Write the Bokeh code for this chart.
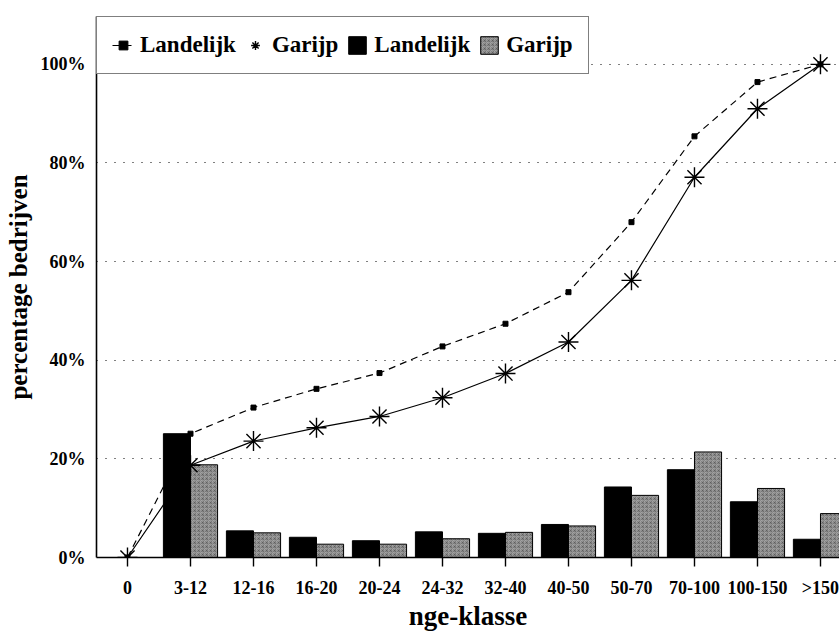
from bokeh.plotting import figure
from bokeh.models import FixedTicker, Range1d, Legend, LegendItem, ColumnDataSource
from bokeh.transform import dodge
from bokeh.embed import file_html
from bokeh.resources import INLINE

categories = ["0", "3-12", "12-16", "16-20", "20-24", "24-32", "32-40",
              "40-50", "50-70", "70-100", "100-150", ">150"]
bar_categories = categories[1:]
bar_landelijk = [25.1, 5.4, 4.1, 3.4, 5.2, 4.9, 6.7, 14.3, 17.8, 11.3, 3.7]
bar_garijp = [18.8, 5.0, 2.7, 2.7, 3.8, 5.1, 6.4, 12.6, 21.4, 14.0, 8.9]
cum_landelijk = [0, 25.1, 30.4, 34.2, 37.4, 42.8, 47.4, 53.8, 68.0, 85.4, 96.4, 100]
cum_garijp = [0, 18.7, 23.6, 26.3, 28.6, 32.4, 37.3, 43.7, 56.2, 77.1, 91.0, 100]
y_ticks = [0, 20, 40, 60, 80, 100]
grid_ticks = [20, 40, 60, 80, 100]

FONT = "Liberation Serif, Times New Roman, serif"

idx = {c: i for i, c in enumerate(categories)}
bar_src = ColumnDataSource(dict(
    x=[idx[c] for c in bar_categories],
    land=bar_landelijk,
    gar=bar_garijp,
))
line_src = ColumnDataSource(dict(
    x=[idx[c] for c in categories],
    land=cum_landelijk,
    gar=cum_garijp,
))

p = figure(width=839, height=635, output_backend="svg", toolbar_location=None,
           x_range=Range1d(-0.492, 11.302), y_range=Range1d(0, 109.7),
           min_border_left=96, min_border_right=0, min_border_top=16,
           min_border_bottom=78)
p.outline_line_color = None
p.background_fill_color = "white"
p.border_fill_color = "white"

# bars
bl = p.vbar(x=dodge("x", -0.215), top="land", width=0.43, source=bar_src,
            fill_color="black", line_color="black", line_width=1)
bg = p.vbar(x=dodge("x", 0.215), top="gar", width=0.43, source=bar_src,
            fill_color="#a4a4a4", line_color="black", line_width=1,
            hatch_pattern="criss_cross", hatch_color="#3a3a3a",
            hatch_scale=4, hatch_weight=0.7, hatch_alpha=0.45)

# lines
ll = p.line("x", "land", source=line_src, line_color="black", line_width=1.2,
            line_dash="7 5")
lm = p.scatter("x", "land", source=line_src, marker="square", size=5,
               fill_color="black", line_color="black")
gl = p.line("x", "gar", source=line_src, line_color="black", line_width=1.2)
gm = p.scatter("x", "gar", source=line_src, marker="asterisk", size=20,
               line_color="black", line_width=1.4)

# axes
p.xaxis.ticker = FixedTicker(ticks=list(range(len(categories))))
p.xaxis.major_label_overrides = {i: c for i, c in enumerate(categories)}
p.xaxis.axis_label = "nge-klasse"
p.xaxis.major_tick_out = 9
p.xaxis.major_tick_in = 0
p.xaxis.minor_tick_line_color = None
p.xaxis.major_label_standoff = 11
p.xaxis.axis_label_standoff = 0

p.yaxis.ticker = FixedTicker(ticks=y_ticks)
p.yaxis.major_label_overrides = {v: f"{v}%" for v in y_ticks}
p.yaxis.axis_label = "percentage bedrijven"
p.yaxis.major_tick_line_color = None
p.yaxis.minor_tick_line_color = None
p.yaxis.major_tick_out = 0
p.yaxis.major_tick_in = 0
p.yaxis.major_label_standoff = 11
p.yaxis.axis_label_standoff = 6

for ax in (p.xaxis, p.yaxis):
    ax.axis_line_color = "black"
    ax.axis_line_width = 1.6
    ax.major_tick_line_width = 1.4
    ax.major_label_text_font = FONT
    ax.major_label_text_font_style = "bold"
    ax.major_label_text_font_size = "18px"
    ax.major_label_text_color = "black"
    ax.axis_label_text_font = FONT
    ax.axis_label_text_font_style = "bold"
    ax.axis_label_text_color = "black"
p.xaxis.axis_label_text_font_size = "27px"
p.yaxis.axis_label_text_font_size = "25px"
p.xaxis.major_tick_line_color = "black"

p.xgrid.grid_line_color = None
p.ygrid.ticker = FixedTicker(ticks=grid_ticks)
p.ygrid.grid_line_color = "black"
p.ygrid.grid_line_width = 1.2
p.ygrid.grid_line_dash = "1 8"

legend = Legend(items=[
    LegendItem(label="Landelijk", renderers=[ll, lm]),
    LegendItem(label="Garijp", renderers=[gm]),
    LegendItem(label="Landelijk", renderers=[bl]),
    LegendItem(label="Garijp", renderers=[bg]),
], location="top_left", orientation="horizontal")
legend.margin = 0
legend.padding = 15
legend.spacing = 8
legend.glyph_width = 22
legend.glyph_height = 22
legend.label_standoff = 6
legend.label_text_font = FONT
legend.label_text_font_style = "bold"
legend.label_text_font_size = "23px"
legend.label_text_color = "black"
legend.border_line_color = "black"
legend.border_line_width = 1.6
legend.background_fill_color = "white"
legend.background_fill_alpha = 1.0
p.add_layout(legend, "center")

open("out.html", "w").write(file_html(p, INLINE))
